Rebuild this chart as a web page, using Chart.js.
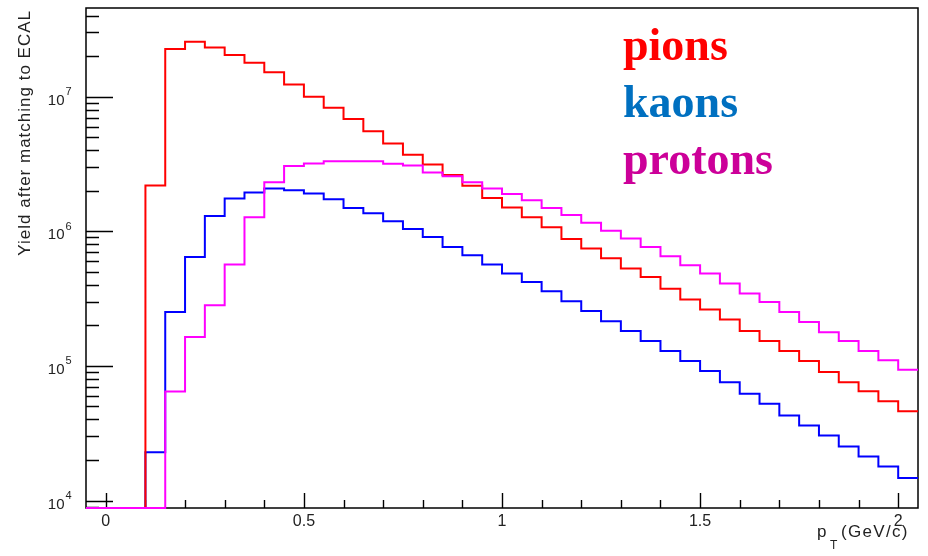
<!DOCTYPE html>
<html>
<head>
<meta charset="utf-8">
<title>Yield after matching to ECAL</title>
<script src="https://cdn.jsdelivr.net/npm/chart.js@4.4.1/dist/chart.umd.min.js"></script>
<style>
  html, body { margin: 0; padding: 0; background: #fff; }
  #wrap { width: 928px; height: 556px; }
</style>
</head>
<body>
<div id="wrap"><canvas id="myChart" width="928" height="556"></canvas></div>
<script>
// pT bins, 0.05 GeV/c wide (lower edges), last bin ends at 2.05
const ptLowEdges = [
  -0.05, 0.00, 0.05, 0.10, 0.15, 0.20, 0.25, 0.30, 0.35, 0.40,
  0.45, 0.50, 0.55, 0.60, 0.65, 0.70, 0.75, 0.80, 0.85, 0.90,
  0.95, 1.00, 1.05, 1.10, 1.15, 1.20, 1.25, 1.30, 1.35, 1.40,
  1.45, 1.50, 1.55, 1.60, 1.65, 1.70, 1.75, 1.80, 1.85, 1.90,
  1.95, 2.00
];
const ptUpperEdge = 2.05;

const pions = [
  0, 0, 0, 2.19e6, 2.26e7, 2.56e7, 2.32e7, 2.04e7, 1.79e7, 1.52e7,
  1.23e7, 1.0e7, 8.28e6, 6.83e6, 5.53e6, 4.50e6, 3.70e6, 3.14e6, 2.62e6, 2.18e6,
  1.77e6, 1.50e6, 1.27e6, 1.07e6, 8.78e5, 7.44e5, 6.30e5, 5.29e5, 4.58e5, 3.75e5,
  3.11e5, 2.62e5, 2.21e5, 1.82e5, 1.53e5, 1.29e5, 1.09e5, 9.0e4, 7.57e4, 6.49e4,
  5.47e4, 4.61e4
];
const kaons = [
  0, 0, 0, 2.28e4, 2.51e5, 6.45e5, 1.30e6, 1.75e6, 1.94e6, 2.08e6,
  2.02e6, 1.91e6, 1.73e6, 1.49e6, 1.36e6, 1.19e6, 1.04e6, 9.09e5, 7.65e5, 6.64e5,
  5.66e5, 4.85e5, 4.20e5, 3.58e5, 3.02e5, 2.56e5, 2.15e5, 1.82e5, 1.53e5, 1.29e5,
  1.09e5, 9.15e4, 7.57e4, 6.21e4, 5.23e4, 4.28e4, 3.61e4, 3.04e4, 2.52e4, 2.12e4,
  1.79e4, 1.47e4
];
const protons = [
  0, 0, 0, 0, 6.46e4, 1.64e5, 2.82e5, 5.66e5, 1.27e6, 2.31e6,
  3.05e6, 3.19e6, 3.32e6, 3.32e6, 3.32e6, 3.18e6, 3.08e6, 2.74e6, 2.57e6, 2.31e6,
  2.08e6, 1.89e6, 1.70e6, 1.49e6, 1.32e6, 1.16e6, 1.01e6, 8.84e5, 7.65e5, 6.53e5,
  5.60e5, 4.85e5, 4.09e5, 3.45e5, 2.98e5, 2.51e5, 2.12e5, 1.78e5, 1.53e5, 1.29e5,
  1.10e5, 9.37e4
];

const xRange = [-0.05, 2.05];
const yRange = [8.8e3, 4.56e7];
const xTicks = [0, 0.5, 1, 1.5, 2];
const xMinorTicks = [0.1, 0.2, 0.3, 0.4, 0.6, 0.7, 0.8, 0.9, 1.1, 1.2, 1.3, 1.4, 1.6, 1.7, 1.8, 1.9];
const yDecades = [4, 5, 6, 7];

const legendNames = ['pions', 'kaons', 'protons'];
const legendColors = ['#ff0000', '#0070c0', '#cc0099'];

// histogram as step line: point at each lower edge, plus closing point at upper edge
// empty bins are drawn on the frame bottom, like ROOT does on a log axis
const toSteps = (values) => {
    let pts = values.map((v, i) => ({ x: ptLowEdges[i], y: v > 0 ? v : yRange[0] }));
    pts.push({ x: ptUpperEdge, y: pts[pts.length - 1].y });
    return pts;
};

const sansFont = '"Liberation Sans", Arial, sans-serif';

const rootFrame = {
    id: 'rootFrame',
    beforeDatasetsDraw(chart) {
        const { ctx, chartArea: a, scales } = chart;
        const xs = scales.x, ys = scales.y;
        ctx.save();
        ctx.strokeStyle = '#000';
        ctx.lineWidth = 1.5;
        ctx.strokeRect(a.left, a.top, a.right - a.left, a.bottom - a.top);

        ctx.lineWidth = 1.4;
        ctx.beginPath();
        // x ticks, drawn inward
        xTicks.forEach(v => {
            const px = Math.round(xs.getPixelForValue(v)) + 0.5;
            ctx.moveTo(px, a.bottom); ctx.lineTo(px, a.bottom - 15);
        });
        xMinorTicks.forEach(v => {
            const px = Math.round(xs.getPixelForValue(v)) + 0.5;
            ctx.moveTo(px, a.bottom); ctx.lineTo(px, a.bottom - 8);
        });
        // y ticks, decades long, 2..9 short
        for (let d = 3; d <= 7; d++) {
            for (let m = 1; m <= 9; m++) {
                const v = m * Math.pow(10, d);
                if (v < yRange[0] || v > yRange[1]) continue;
                const py = Math.round(ys.getPixelForValue(v)) + 0.5;
                const len = m === 1 ? 27 : 13;
                ctx.moveTo(a.left, py); ctx.lineTo(a.left + len, py);
            }
        }
        ctx.stroke();
        ctx.restore();
    },
    afterDraw(chart) {
        const { ctx, chartArea: a, scales } = chart;
        const ys = scales.y;
        ctx.save();
        ctx.fillStyle = '#222';

        // y tick labels 10^n
        yDecades.forEach(d => {
            const py = ys.getPixelForValue(Math.pow(10, d));
            ctx.font = '15px ' + sansFont;
            ctx.textAlign = 'right';
            ctx.textBaseline = 'alphabetic';
            ctx.fillText('10', 64.5, py + 8);
            ctx.font = '11px ' + sansFont;
            ctx.textAlign = 'left';
            ctx.fillText(String(d), 65.5, py - 1.5);
        });

        // y title
        ctx.save();
        ctx.translate(25, 10);
        ctx.rotate(-Math.PI / 2);
        ctx.font = '17px ' + sansFont;
        ctx.letterSpacing = '1px';
        ctx.textAlign = 'right';
        ctx.textBaseline = 'middle';
        ctx.fillText('Yield after matching to ECAL', 0, 0);
        ctx.restore();

        // x title p_T (GeV/c)
        ctx.textAlign = 'left';
        ctx.textBaseline = 'alphabetic';
        ctx.font = '17px ' + sansFont;
        ctx.fillText('p', 817, 537);
        ctx.font = '12px ' + sansFont;
        ctx.fillText('T', 830, 549);
        ctx.font = '17px ' + sansFont;
        ctx.letterSpacing = '1.3px';
        ctx.fillText('(GeV/c)', 841, 537);
        ctx.letterSpacing = '0px';

        // legend text
        ctx.font = 'bold 46px "Liberation Serif", "Times New Roman", serif';
        legendNames.forEach((name, i) => {
            ctx.fillStyle = legendColors[i];
            ctx.fillText(name, 623, 60 + i * 57);
        });
        ctx.restore();
    }
};

const lineClip = { left: 0, top: 0, right: 0, bottom: 2 };

const ctx = document.getElementById('myChart');
new Chart(ctx, {
    type: 'line',
    data: {
        datasets: [
            { label: 'protons', data: toSteps(protons), borderColor: '#ff00ff', order: 0, clip: lineClip },
            { label: 'pions', data: toSteps(pions), borderColor: '#ff0000', order: 1, clip: lineClip },
            { label: 'kaons', data: toSteps(kaons), borderColor: '#0000ff', order: 2, clip: lineClip }
        ]
    },
    options: {
        responsive: false,
        animation: false,
        devicePixelRatio: 1,
        layout: { padding: { top: 8, right: 10, left: 0, bottom: 0 } },
        elements: {
            line: { borderWidth: 2, stepped: true, tension: 0, fill: false },
            point: { radius: 0, hoverRadius: 0 }
        },
        plugins: {
            legend: { display: false },
            tooltip: { enabled: false }
        },
        scales: {
            x: {
                type: 'linear',
                min: xRange[0],
                max: xRange[1],
                grid: { display: false, drawTicks: false },
                border: { display: false },
                afterBuildTicks: (s) => { s.ticks = xTicks.map(v => ({ value: v })); },
                afterFit: (s) => { s.height = 48; },
                ticks: {
                    color: '#222',
                    font: { family: sansFont, size: 16 },
                    padding: 4,
                    maxRotation: 0,
                    autoSkip: false,
                    callback: (v) => String(v)
                }
            },
            y: {
                type: 'logarithmic',
                min: yRange[0],
                max: yRange[1],
                grid: { display: false, drawTicks: false },
                border: { display: false },
                ticks: { display: false },
                afterFit: (s) => { s.width = 86; }
            }
        }
    },
    plugins: [rootFrame]
});
</script>
</body>
</html>
